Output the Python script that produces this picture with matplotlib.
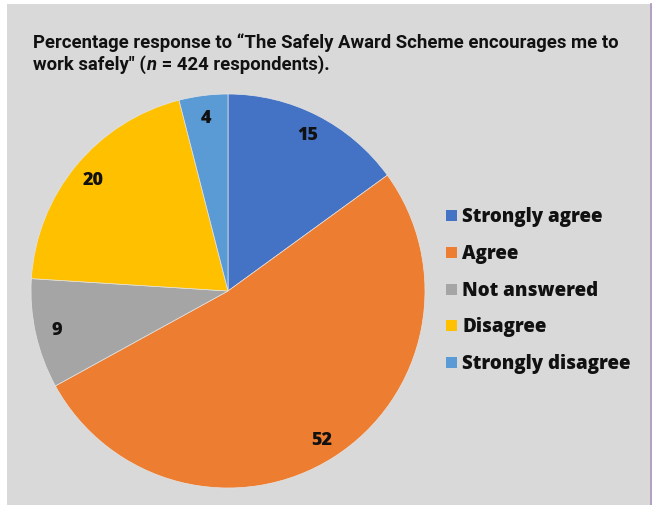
import matplotlib
matplotlib.use("Agg")
import matplotlib.pyplot as plt
from matplotlib.patches import Rectangle
from matplotlib.lines import Line2D

categories = ["Strongly agree", "Agree", "Not answered", "Disagree", "Strongly disagree"]
values = [15, 52, 9, 20, 4]
colors = ["#4472C4", "#ED7D31", "#A5A5A5", "#FFC000", "#5B9BD5"]

W, H = 655, 506
fig = plt.figure(figsize=(W / 100, H / 100), dpi=100)
fig.patch.set_facecolor("white")

# background panel
fig.patches.append(Rectangle((7 / W, 0), (650 - 7) / W, (H - 5) / H,
                             transform=fig.transFigure, facecolor="#D9D9D9",
                             edgecolor="none", zorder=-5))
fig.lines.append(Line2D([651 / W, 651 / W], [0, (H - 5) / H], transform=fig.transFigure,
                        color="#A58FB5", lw=1.2, zorder=-4))

# title
tfont = dict(family=["Roboto", "DejaVu Sans"], weight="bold", size=13)
fig.canvas.draw()
r = fig.canvas.get_renderer()
line1 = fig.text(33 / W, 1 - 48 / H,
                 "Percentage response to \u201cThe Safely Award Scheme encourages me to",
                 ha="left", va="baseline", color="#111111", **tfont)
bb = line1.get_window_extent(r)
scale = (614 - 33) / bb.width
tfont["size"] = 13 * scale
line1.set_fontsize(tfont["size"])
t1 = fig.text(33 / W, 1 - 70 / H, "work safely\" (", ha="left", va="baseline",
              color="#111111", **tfont)
bb = t1.get_window_extent(r)
t2 = fig.text(bb.x1 / W, 1 - 70 / H, "n", ha="left", va="baseline", color="#111111",
              style="italic", **tfont)
bb = t2.get_window_extent(r)
fig.text(bb.x1 / W + 0.002, 1 - 70 / H, " = 424 respondents).", ha="left", va="baseline",
         color="#111111", **tfont)

# pie
cx, cy, rad = 228, 292, 197
ax = fig.add_axes([(cx - rad) / W, (H - cy - rad) / H, 2 * rad / W, 2 * rad / H])
ax.set_facecolor("none")
wedges, texts, autotexts = ax.pie(values, colors=colors, startangle=90, counterclock=False,
                                  autopct=lambda p: f"{p:.0f}", pctdistance=0.89,
                                  wedgeprops=dict(edgecolor="#E4E4E4", linewidth=0.5),
                                  textprops=dict(family=["Open Sans", "DejaVu Sans"],
                                                 weight="heavy", size=13, color="#111111"))
ax.set_xlim(-1, 1)
ax.set_ylim(-1, 1)
ax.set_aspect("equal")

# legend
ys = [217, 254, 291, 327, 364]
for c, lab, y in zip(colors, categories, ys):
    fig.patches.append(Rectangle((446 / W, 1 - (y + 5) / H), 11 / W, 11 / H,
                                 transform=fig.transFigure, facecolor=c, edgecolor="none"))
    fig.text(462 / W, 1 - y / H, lab, ha="left", va="center", color="#111111",
             family=["Open Sans", "DejaVu Sans"], weight="heavy", size=13.5)

fig.savefig("out.png", dpi=100)
